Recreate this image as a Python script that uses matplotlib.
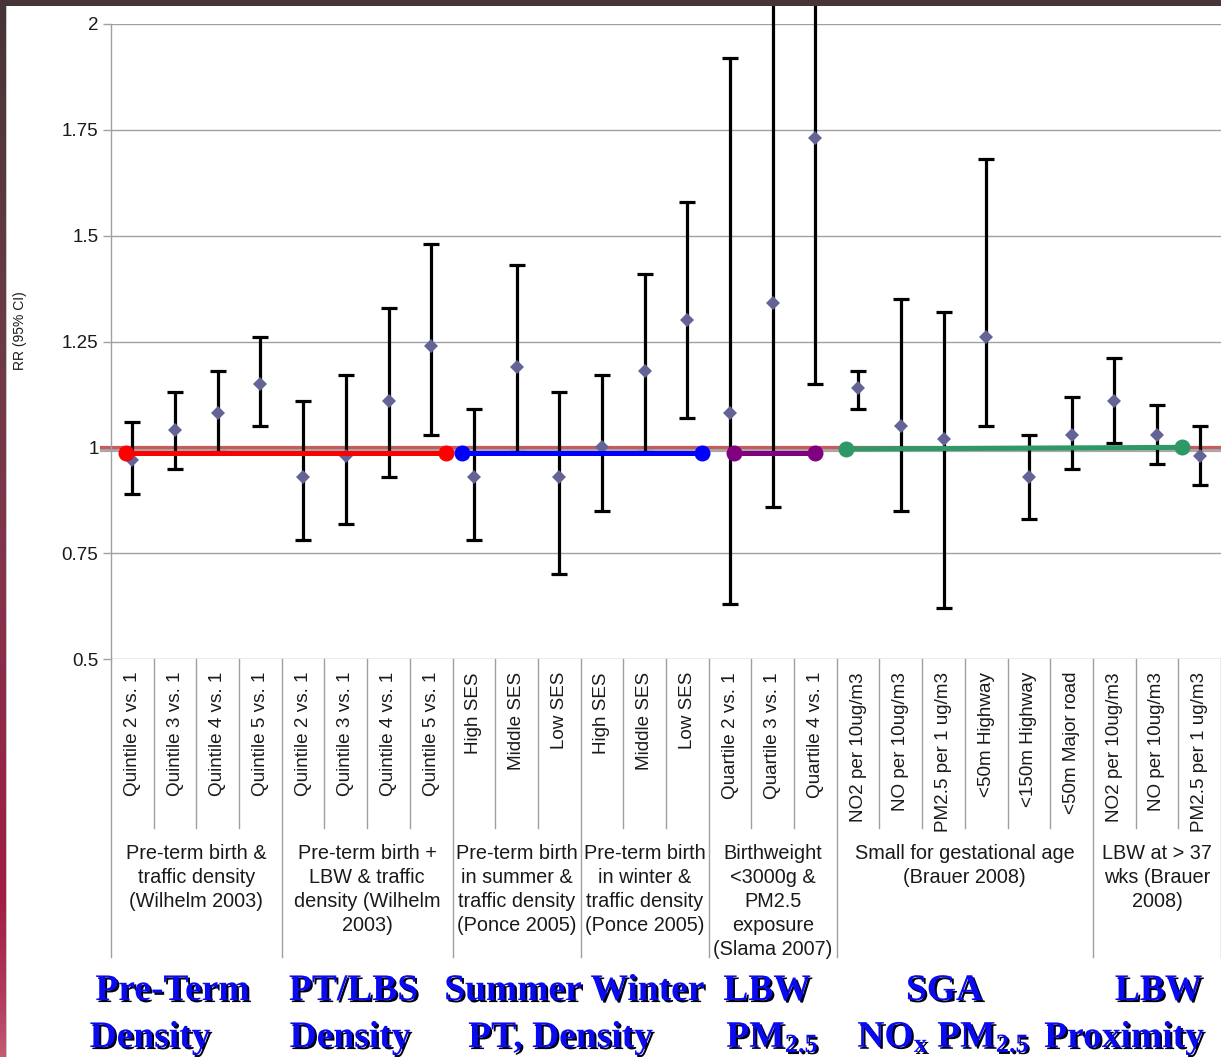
import matplotlib
matplotlib.use('Agg')
import matplotlib.pyplot as plt
import matplotlib.transforms as mtransforms
import matplotlib.patheffects as pe
from matplotlib.patches import Rectangle
from matplotlib.colors import LinearSegmentedColormap
import numpy as np

# ---------------- data ----------------
categories = ["Quintile 2 vs. 1", "Quintile 3 vs. 1", "Quintile 4 vs. 1", "Quintile 5 vs. 1",
              "Quintile 2 vs. 1", "Quintile 3 vs. 1", "Quintile 4 vs. 1", "Quintile 5 vs. 1",
              "High SES", "Middle SES", "Low SES",
              "High SES", "Middle SES", "Low SES",
              "Quartile 2 vs. 1", "Quartile 3 vs. 1", "Quartile 4 vs. 1",
              "NO2 per 10ug/m3", "NO per 10ug/m3", "PM2.5 per 1 ug/m3",
              "<50m Highway", "<150m Highway", "<50m Major road",
              "NO2 per 10ug/m3", "NO per 10ug/m3", "PM2.5 per 1 ug/m3"]
rr = [0.97, 1.04, 1.08, 1.15,
      0.93, 0.98, 1.11, 1.24,
      0.93, 1.19, 0.93,
      1.00, 1.18, 1.30,
      1.08, 1.34, 1.73,
      1.14, 1.05, 1.02, 1.26, 0.93, 1.03,
      1.11, 1.03, 0.98]
ci_low = [0.89, 0.95, 0.99, 1.05,
          0.78, 0.82, 0.93, 1.03,
          0.78, 0.99, 0.70,
          0.85, 0.99, 1.07,
          0.63, 0.86, 1.15,
          1.09, 0.85, 0.62, 1.05, 0.83, 0.95,
          1.01, 0.96, 0.91]
ci_high = [1.06, 1.13, 1.18, 1.26,
           1.11, 1.17, 1.33, 1.48,
           1.09, 1.43, 1.13,
           1.17, 1.41, 1.58,
           1.92, 2.09, 2.60,
           1.18, 1.35, 1.32, 1.68, 1.03, 1.12,
           1.21, 1.10, 1.05]
group_labels = ["Pre-term birth &\ntraffic density\n(Wilhelm 2003)",
                "Pre-term birth +\nLBW & traffic\ndensity (Wilhelm\n2003)",
                "Pre-term birth\nin summer &\ntraffic density\n(Ponce 2005)",
                "Pre-term birth\nin winter &\ntraffic density\n(Ponce 2005)",
                "Birthweight\n<3000g &\nPM2.5\nexposure\n(Slama 2007)",
                "Small for gestational age\n(Brauer 2008)",
                "LBW at > 37\nwks (Brauer\n2008)"]
group_sizes = [4, 4, 3, 3, 3, 6, 3]
y_ticks = [0.5, 0.75, 1.0, 1.25, 1.5, 1.75, 2.0]
y_tick_labels = ["0.5", "0.75", "1", "1.25", "1.5", "1.75", "2"]
headline_top = ["Pre-Term", "PT/LBS", "Summer", "Winter", "LBW", "SGA", "LBW"]
headline_bottom = ["Density", "Density", "PT, Density", r"PM$_\mathrm{2.5}$",
                   r"NO$_\mathrm{x}$ PM$_\mathrm{2.5}$", "Proximity"]

# ---------------- figure ----------------
W, H = 1221, 1057
plt.rcParams['font.family'] = ['Liberation Sans', 'DejaVu Sans']
plt.rcParams['mathtext.fontset'] = 'custom'
plt.rcParams['mathtext.rm'] = 'Liberation Serif:bold'
plt.rcParams['mathtext.it'] = 'Liberation Serif:bold'
plt.rcParams['mathtext.bf'] = 'Liberation Serif:bold'

fig = plt.figure(figsize=(W / 100, H / 100), dpi=100)
fig.patch.set_facecolor('white')

def fx(px):
    return px / W

def fy(py):
    return 1 - py / H

ax = fig.add_axes([fx(111), fy(659), fx(1221) - fx(111), fy(24) - fy(659)])
n = len(categories)
x = np.arange(n)
ax.set_xlim(-0.5, n - 0.5)
ax.set_ylim(0.5, 2.0)
ax.set_yticks(y_ticks)
ax.set_yticklabels(y_tick_labels)
ax.set_xticks([])
for s in ['top', 'right', 'bottom']:
    ax.spines[s].set_visible(False)
ax.spines['left'].set_color('#A0A0A0')
ax.spines['left'].set_linewidth(1.0)
ax.tick_params(axis='y', direction='out', length=6, color='#A0A0A0', width=1.0,
               labelsize=13.5, labelcolor='#1a1a1a', pad=3)
ax.yaxis.grid(True, color='#A0A0A0', linewidth=1.0)
ax.set_axisbelow(True)

ax.text(fx(20), fy(331), "RR (95% CI)", transform=fig.transFigure, rotation=90,
        ha='center', va='center', fontsize=10, color='#1a1a1a')

# reference line at RR = 1 (grey shadow + red)
xl_ref = (101 - 111) / ((1221 - 111) / n) - 0.5
ax.plot([xl_ref, n - 0.5], [0.9935, 0.9935], color='#A8A8A8', lw=2.3, zorder=2, clip_on=False)
ax.plot([xl_ref, n - 0.5], [1.0, 1.0], color='#C65B5B', lw=2.3, zorder=2.1, clip_on=False)

# error bars
rr_a = np.array(rr)
lo = rr_a - np.array(ci_low)
hi = np.array(ci_high) - rr_a
eb = ax.errorbar(x, rr_a, yerr=[lo, hi], fmt='none', ecolor='black', elinewidth=2.3,
                 capsize=6, capthick=2.3, zorder=3)
for a in list(eb.lines[1]) + list(eb.lines[2]):
    a.set_clip_on(False)
ax.plot(x, rr_a, linestyle='none', marker='D', markersize=7.5, color='#636396',
        markeredgewidth=0, zorder=4)

# coloured group overlay lines (annotations)
overlays = [  # (start idx, start offset, end idx, end offset, y0, y1, colour)
    (0, -0.15, 7, 0.35, 0.9855, 0.9855, '#FF0000'),
    (8, -0.27, 13, 0.34, 0.9855, 0.9855, '#0000FF'),
    (14, 0.09, 16, -0.02, 0.9855, 0.9855, '#800080'),
    (17, -0.28, 25, -0.41, 0.996, 1.0, '#2E9966'),
]
for s, so, e, eo, y0, y1, c in overlays:
    ax.plot([s + so, e + eo], [y0, y1], color=c, lw=3.6, marker='o', markersize=11.5,
            markeredgewidth=0, zorder=6, clip_on=False, solid_capstyle='butt')

# category labels and separators below the axis
blend = mtransforms.blended_transform_factory(ax.transData, fig.transFigure)
for i, lab in enumerate(categories):
    ax.text(i, fy(672), lab, transform=blend, rotation=90, ha='center', va='top',
            fontsize=13.6, color='#1a1a1a', clip_on=False)

bounds = np.concatenate([[0], np.cumsum(group_sizes)])
group_edges = set(int(b) for b in bounds)
for b in range(n + 1):
    bottom = 957 if b in group_edges else 828
    ax.plot([b - 0.5, b - 0.5], [fy(659), fy(bottom)], transform=blend, color='#A0A0A0',
            lw=1.0, clip_on=False, zorder=1)

for g, lab in enumerate(group_labels):
    cx = (bounds[g] + bounds[g + 1]) / 2 - 0.5
    ax.text(cx, fy(844), lab, transform=blend, ha='center', va='top', multialignment='center',
            fontsize=14.3, color='#1a1a1a', linespacing=1.33, clip_on=False)

# bold blue headlines with shadow
top_x = [172.5, 353.5, 513, 647.5, 767, 944.5, 1158.5]
bot_x = [150, 350, 560.5, 772.5, 943.5, 1124]
shadow = [pe.withSimplePatchShadow(offset=(1.5, -1.5), shadow_rgbFace='#000015', alpha=1.0)]
for t, px in zip(headline_top, top_x):
    fig.text(fx(px), fy(1000), t, ha='center', va='baseline', fontsize=27,
             family='Liberation Serif', weight='bold', color='#0A0AF0', path_effects=shadow)
for t, px in zip(headline_bottom, bot_x):
    fig.text(fx(px), fy(1047), t, ha='center', va='baseline', fontsize=27,
             family='Liberation Serif', weight='bold', color='#0A0AF0', path_effects=shadow)

# slide frame: dark top bar and gradient left bar
fig.add_artist(Rectangle((0, fy(6)), 1, 6 / H, transform=fig.transFigure,
                         facecolor='#463437', edgecolor='none', zorder=100))
bax = fig.add_axes([0, 0, fx(6), 1], zorder=101)
cmap = LinearSegmentedColormap.from_list('frame', [
    (0.0, '#463437'), (0.3, '#6a3b47'), (0.55, '#84344c'),
    (0.85, '#A01C45'), (0.95, '#B23D5E'), (1.0, '#C45A74')])
grad = np.linspace(0, 1, 256).reshape(-1, 1)
bax.imshow(grad, aspect='auto', cmap=cmap, extent=[0, 1, 1, 0])
bax.set_axis_off()
fig.add_artist(Rectangle((fx(6), 0), 1 / W, fy(6), transform=fig.transFigure,
                         facecolor='#C8C8C8', edgecolor='none', zorder=100))

fig.savefig('out.png', dpi=100)
